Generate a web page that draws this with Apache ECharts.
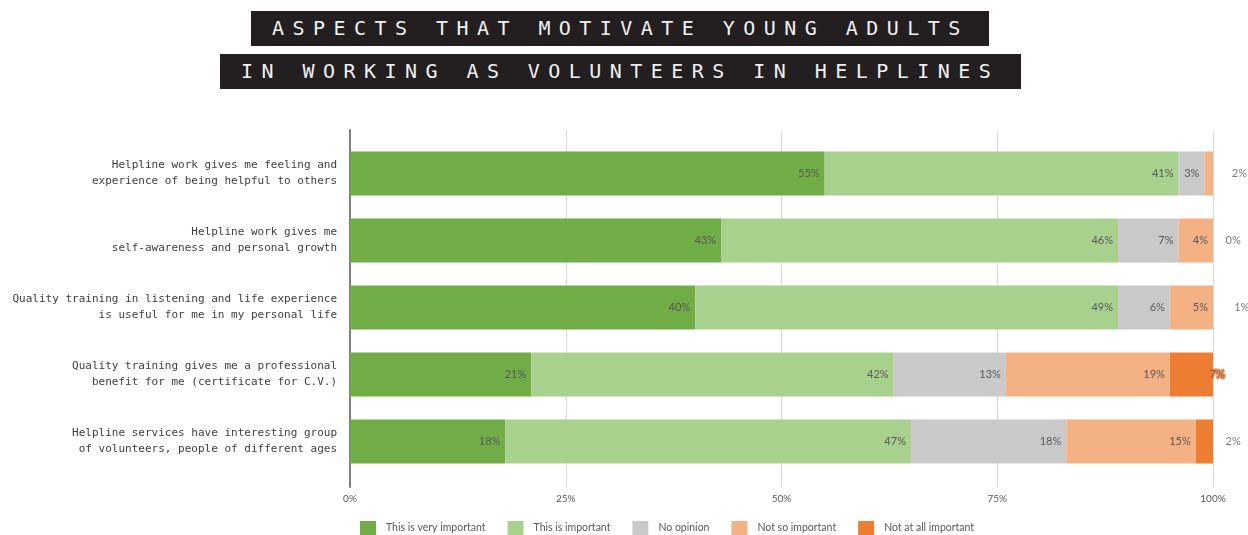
<!DOCTYPE html>
<html>
<head>
<meta charset="utf-8">
<script src="https://cdn.jsdelivr.net/npm/echarts@6/dist/echarts.min.js"></script>
<style>
  html, body { margin: 0; padding: 0; background: #ffffff; }
  #wrap { position: relative; width: 1248px; height: 535px; overflow: hidden; }
  #chart { position: absolute; left: 0; top: 0; width: 1248px; height: 535px; }
  .ttl {
    position: absolute; box-sizing: border-box; white-space: nowrap;
    background: #231f20; color: #f0f0f0;
    font-family: 'DejaVu Sans Mono', monospace; font-size: 20px;
    letter-spacing: 8.45px; padding-left: 21px;
  }
</style>
</head>
<body>
<div id="wrap">
  <div id="chart"></div>
  <div id="ttl1" class="ttl" style="left:251px;top:11px;width:738px;height:35px;line-height:35px;"></div>
  <div id="ttl2" class="ttl" style="left:220px;top:54px;width:801px;height:35px;line-height:35px;"></div>
</div>
<script>
// Title lines
const titleLines = ['ASPECTS THAT MOTIVATE YOUNG ADULTS', 'IN WORKING AS VOLUNTEERS IN HELPLINES'];

// Statements (one bar each, top to bottom)
const categories = [
  'Helpline work gives me feeling and\nexperience of being helpful to others',
  'Helpline work gives me\nself-awareness and personal growth',
  'Quality training in listening and life experience\nis useful for me in my personal life',
  'Quality training gives me a professional\nbenefit for me (certificate for C.V.)',
  'Helpline services have interesting group\nof volunteers, people of different ages'
];

// Answer shares in percent
const seriesNames = ['This is very important', 'This is important', 'No opinion', 'Not so important', 'Not at all important'];
const veryImportant     = [55, 43, 40, 21, 18];
const important         = [41, 46, 49, 42, 47];
const noOpinion         = [3, 7, 6, 13, 18];
const notSoImportant    = [1, 4, 5, 19, 15];
const notAtAllImportant = [2, 0, 1, 7, 2];

// Percent axis ticks
const xTicks = [0, 25, 50, 75, 100];

const colors = ['#70AD47', '#A9D18E', '#C9C9C9', '#F4B183', '#ED7D31'];
const valueFont = 'Lato';
const textGrey = '#595959';

document.getElementById('ttl1').textContent = titleLines[0];
document.getElementById('ttl2').textContent = titleLines[1];

const allSeries = [veryImportant, important, noOpinion, notSoImportant, notAtAllImportant];
const totals = categories.map((_, i) => allSeries.reduce((s, arr) => s + arr[i], 0));

const barSeries = allSeries.map((arr, k) => ({
  name: seriesNames[k],
  type: 'bar',
  stack: 'total',
  xAxisIndex: 0,
  yAxisIndex: 0,
  barWidth: 44,
  itemStyle: { color: colors[k] },
  emphasis: { disabled: true },
  label: {
    show: k < 4,
    position: 'insideRight',
    distance: 5,
    formatter: '{c}%',
    color: textGrey,
    fontFamily: valueFont,
    fontSize: 11
  },
  data: arr.map(v => ({ value: v, label: { show: k < 4 && v >= 2 } }))
}));

// Labels for the last answer, placed after the end of each stacked bar
const outsideLabel = [
  { position: 'right', distance: 1 },
  { position: 'right', distance: 12 },
  { position: 'right', distance: 12 },
  { position: 'left', distance: 5, textBorderColor: colors[4], textBorderWidth: 3 },
  { position: 'right', distance: 12 }
];
const endLabels = {
  type: 'scatter',
  xAxisIndex: 0,
  yAxisIndex: 0,
  silent: true,
  clip: false,
  symbolSize: 1,
  itemStyle: { color: 'rgba(0,0,0,0)' },
  emphasis: { disabled: true },
  label: {
    show: true,
    color: textGrey,
    fontFamily: valueFont,
    fontSize: 11,
    formatter: p => p.value[2] + '%'
  },
  data: categories.map((c, i) => ({
    value: [totals[i], i, notAtAllImportant[i]],
    label: outsideLabel[i]
  }))
};

const option = {
  animation: false,
  grid: [
    { left: 350, right: 35, top: 140, bottom: 60 },
    { left: 350, right: 35, top: 130, bottom: 48 }
  ],
  xAxis: [
    { gridIndex: 0, type: 'value', min: 0, max: 100, show: false },
    {
      gridIndex: 1, type: 'value', min: xTicks[0], max: xTicks[xTicks.length - 1],
      interval: xTicks[1] - xTicks[0],
      axisLine: { show: false },
      axisTick: { show: false },
      splitLine: { show: true, showMinLine: false, lineStyle: { color: '#d9d9d9', width: 1 } },
      axisLabel: { formatter: v => v + '%', color: textGrey, fontFamily: valueFont, fontSize: 10, margin: 7 }
    }
  ],
  yAxis: [
    {
      gridIndex: 0, type: 'category', data: categories, inverse: true,
      axisLine: { show: false },
      axisTick: { show: false },
      splitLine: { show: false },
      axisLabel: {
        color: '#404040', fontFamily: 'DejaVu Sans Mono', fontSize: 11,
        lineHeight: 16, margin: 13
      }
    },
    {
      gridIndex: 1, type: 'value', min: 0, max: 1,
      axisLine: { show: true, lineStyle: { color: '#7f7f7f', width: 2 } },
      axisTick: { show: false },
      axisLabel: { show: false },
      splitLine: { show: false }
    }
  ],
  legend: {
    data: seriesNames,
    left: 355,
    top: 516,
    icon: 'rect',
    itemWidth: 16,
    itemHeight: 14,
    itemGap: 22,
    selectedMode: false,
    textStyle: { color: textGrey, fontFamily: valueFont, fontSize: 10.5, padding: [0, 0, 0, 5] }
  },
  series: barSeries.concat([endLabels])
};

const chart = echarts.init(document.getElementById('chart'), null, { renderer: 'canvas' });
chart.setOption(option);
</script>
</body>
</html>
